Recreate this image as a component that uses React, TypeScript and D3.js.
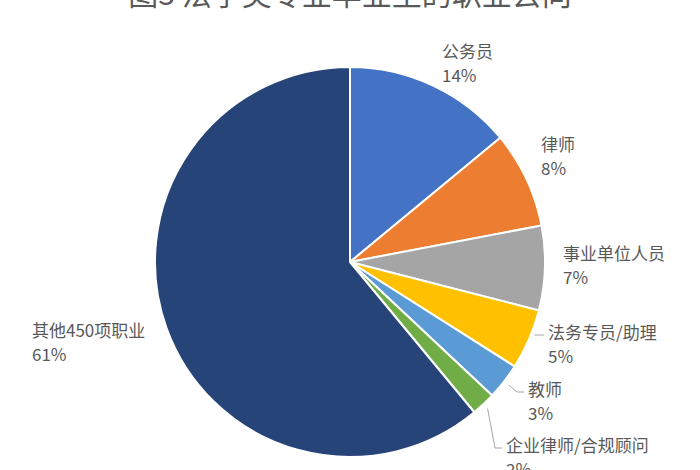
import React, { useEffect, useRef } from "react";
import { select, pie, arc } from "d3";

const W = 700;
const H = 470;
const CX = 350;
const CY = 262;
const R = 195;
const FONT = "'Noto Sans CJK SC', 'Noto Sans', sans-serif";
const INK = "#595959";

const TITLE = "图3 法学类专业毕业生的职业去向";
const categories = ["公务员", "律师", "事业单位人员", "法务专员/助理", "教师", "企业律师/合规顾问", "其他450项职业"];
const shares = [14, 8, 7, 5, 3, 2, 61];
const colors = ["#4472C4", "#ED7D31", "#A5A5A5", "#FFC000", "#5B9BD5", "#70AD47", "#264478"];

// Label placement (x of text start, baseline of the first line) and whether a leader line is drawn.
const labelLayout: { x: number; y: number; leader: boolean }[] = [
  { x: 442, y: 58, leader: false },
  { x: 541, y: 151, leader: false },
  { x: 563, y: 260, leader: false },
  { x: 548, y: 339, leader: true },
  { x: 528, y: 396, leader: true },
  { x: 506, y: 452, leader: true },
  { x: 32, y: 337, leader: false },
];

export default function App() {
  const ref = useRef<SVGSVGElement>(null);

  useEffect(() => {
    if (!ref.current) return;
    const svg = select(ref.current);
    svg.selectAll("*").remove();

    svg.append("rect").attr("width", W).attr("height", H).attr("fill", "#fff");

    svg
      .append("text")
      .attr("x", CX)
      .attr("y", 5)
      .attr("text-anchor", "middle")
      .attr("font-family", FONT)
      .attr("font-size", "30px")
      .attr("fill", INK)
      .text(TITLE);

    const data = categories.map((c, i) => ({ name: c, value: shares[i], i }));
    const slices = pie<(typeof data)[number]>()
      .sort(null)
      .value((d) => d.value)(data);

    const path = arc<any>().innerRadius(0).outerRadius(R);
    const g = svg.append("g").attr("transform", `translate(${CX},${CY})`);

    g.selectAll("path.slice")
      .data(slices)
      .join("path")
      .attr("class", "slice")
      .attr("d", path)
      .attr("fill", (d) => colors[d.data.i])
      .attr("stroke", "#fff")
      .attr("stroke-width", 2)
      .attr("stroke-linejoin", "round");

    // Leader lines for the small slices.
    slices.forEach((s) => {
      const lay = labelLayout[s.data.i];
      if (!lay.leader) return;
      const mid = (s.startAngle + s.endAngle) / 2;
      const sx = CX + (R + 6) * Math.sin(mid);
      const sy = CY - (R + 6) * Math.cos(mid);
      const ly = lay.y - 4;
      const ex = lay.x - 4;
      const elbowX = Math.min(lay.x - 11, Math.max(sx, lay.x - 11));
      const pts = sy < ly - 2 ? [[sx, sy], [elbowX, ly], [ex, ly]] : [[sx, ly], [ex, ly]];
      svg
        .append("polyline")
        .attr("points", pts.map((p) => p.join(",")).join(" "))
        .attr("fill", "none")
        .attr("stroke", "#a6a6a6")
        .attr("stroke-width", 1);
    });

    const labels = svg
      .selectAll("g.label")
      .data(slices)
      .join("g")
      .attr("class", "label")
      .attr("font-family", FONT)
      .attr("font-size", "17px")
      .attr("fill", INK);

    labels
      .append("text")
      .attr("x", (d) => labelLayout[d.data.i].x)
      .attr("y", (d) => labelLayout[d.data.i].y)
      .text((d) => d.data.name);

    labels
      .append("text")
      .attr("x", (d) => labelLayout[d.data.i].x)
      .attr("y", (d) => labelLayout[d.data.i].y + 24)
      .text((d) => `${d.data.value}%`);
  }, []);

  return (
    <svg
      ref={ref}
      width={W}
      height={H}
      viewBox={`0 0 ${W} ${H}`}
      style={{ position: "absolute", left: 0, top: 0, display: "block" }}
    />
  );
}
